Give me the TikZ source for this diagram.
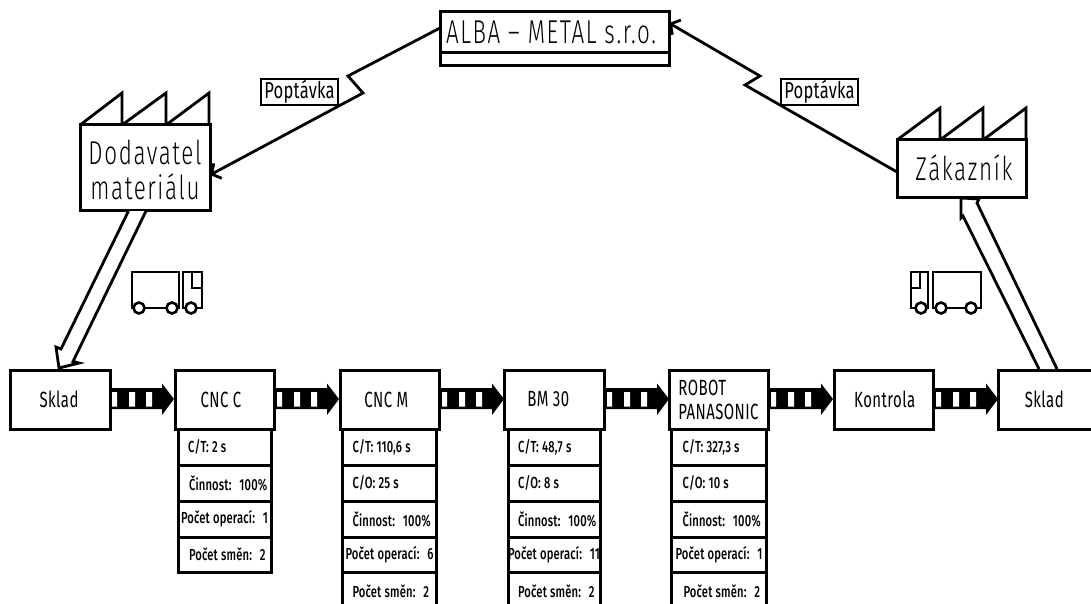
\documentclass[tikz,border=0pt]{standalone}
\usepackage{fontspec}
\setmainfont{Fira Sans}
\newfontfamily\smallf[FakeStretch=0.7,LetterSpace=1]{Fira Sans Medium}
\newfontfamily\procf[FakeStretch=0.68,LetterSpace=2]{Fira Sans}
\newfontfamily\popf[FakeStretch=0.72,LetterSpace=1]{Fira Sans}
\newfontfamily\thinf[FakeStretch=0.68,LetterSpace=5]{Fira Sans Light}
\usetikzlibrary{arrows.meta}
\tikzset{
  box/.style={draw=black,line width=3pt,fill=white,inner sep=0pt,outer sep=0pt,rectangle,anchor=north west,align=center},
  proc/.style={font=\procf\fontsize{22}{24}\selectfont},
  big/.style={font=\thinf\fontsize{33}{35}\selectfont,inner sep=0pt,align=center},
  thin label/.style={box,line width=2.6pt,font=\popf\fontsize{23}{25}\selectfont},
  conn/.style={draw=black,line width=2.8pt,line join=miter},
  barbed/.style={conn,-{Straight Barb[length=7pt,width=17pt,line width=2.8pt]}},
  outline/.style={draw=black,line width=2.8pt,line join=miter},
  truckline/.style={draw=black,line width=2.6pt,line join=miter},
  wheel/.style={draw=black,line width=2.6pt,fill=white,circle,minimum size=11pt,inner sep=0pt},
}
% name, x0, y0, x1, y1, extra style, content
\newcommand{\bx}[7]{\pgfmathsetlengthmacro{\bw}{(#4-#2)*1pt}\pgfmathsetlengthmacro{\bh}{(#5-#3)*1pt}%
  \node[box,minimum width=\bw,minimum height=\bh,#6] (#1) at (#2,#3) {#7};}
% name, x0, y0, y1, width, indent, text
\newcommand{\cell}[7]{\pgfmathsetlengthmacro{\bh}{(#4-#3)*1pt}%
  \node[box,minimum height=\bh,text width=#5pt,align=left,font=\smallf\fontsize{16}{18}\selectfont] (#1) at (#2,#3) {\spaceskip=3.2pt\relax\hspace*{#6pt}#7};}
% x0 = tail
\newcommand{\flow}[1]{%
  \fill[black] (#1,388) -- (#1+52,388) -- (#1+52,383.5) -- (#1+64,399) -- (#1+52,415) -- (#1+52,409) -- (#1,409) -- cycle;
  \fill[white] (#1+2,392) rectangle (#1+7,406.5) (#1+19,392) rectangle (#1+25,406.5) (#1+36,392) rectangle (#1+42,406.5);}
\begin{document}
\begin{tikzpicture}[x=1pt,y=-1pt]
\useasboundingbox (0,0) rectangle (1091,604);
\clip (0,0) rectangle (1091,604);
\fill[white] (0,0) rectangle (1091,604);

% top company box
\bx{alba}{440}{12}{669}{66}{}{}
\node[big] (albat) at (551,32) {ALBA – METAL s.r.o.};
\coordinate (albadivL) at (440,52.5);
\coordinate (albadivR) at (669,52.5);
\draw[outline] (albadivL) -- (albadivR);

% suppliers
\draw[outline] (80,125) -- (122,93) -- (122,125) -- (166,93) -- (166,125) -- (209,93) -- (209,125);
\bx{dod}{80}{125}{210}{210}{}{}
\node[big] (dodt) at (145,170) {Dodavatel\\materiálu};
\draw[outline] (897,140) -- (940,108) -- (940,140) -- (983,108) -- (983,140) -- (1026,108) -- (1026,140);
\bx{zak}{897}{140}{1026}{197}{}{}
\node[big] (zakt) at (964,168) {Zákazník};

% process boxes
\bx{s1}{10}{370}{110}{429}{proc}{Sklad\hspace*{2pt}}
\bx{cncc}{175.5}{370}{274.5}{429}{proc}{CNC C\hspace*{8pt}}
\bx{cncm}{340}{370}{439.5}{429}{proc}{CNC M\hspace*{7pt}}
\bx{bm}{504.5}{370}{604}{429}{proc}{BM 30\hspace*{12pt}}
\bx{rob}{669}{370}{768}{429}{proc,align=left}{ROBOT\\PANASONIC}
\bx{kon}{834}{370}{933.5}{429}{proc}{Kontrola\hspace*{-2pt}}
\bx{s2}{998.5}{370}{1096}{429}{proc}{Sklad\hspace*{6pt}}

% flows
\flow{110}
\flow{275}
\flow{440}
\flow{605}
\flow{769}
\flow{934}

% data cells
\cell{c1}{178}{429}{465}{93}{10}{C/T: 2 s}
\cell{c2}{178}{465}{501}{93}{11}{Činnost: 100\%}
\cell{c3}{178}{501}{537}{93}{3}{Počet operací: 1}
\cell{c4}{178}{537}{572}{93}{11}{Počet směn: 2}

\cell{m1}{342.5}{429}{465}{93.5}{10}{C/T: 110,6 s}
\cell{m2}{342.5}{465}{501}{93.5}{10}{C/O: 25 s}
\cell{m3}{342.5}{501}{537}{93.5}{10}{Činnost: 100\%}
\cell{m4}{342.5}{537}{572}{93.5}{3}{Počet operací: 6}
\cell{m5}{342.5}{572}{610}{93.5}{10}{Počet směn: 2}

\cell{b1}{508}{429}{465}{92.5}{10}{C/T: 48,7 s}
\cell{b2}{508}{465}{501}{92.5}{10}{C/O: 8 s}
\cell{b3}{508}{501}{537}{92.5}{10}{Činnost: 100\%}
\cell{b4}{508}{537}{572}{92.5}{0}{Počet operací: 11}
\cell{b5}{508}{572}{610}{92.5}{10}{Počet směn: 2}

\cell{r1}{671.5}{429}{465}{94.5}{11}{C/T: 327,3 s}
\cell{r2}{671.5}{465}{501}{94.5}{11}{C/O: 10 s}
\cell{r3}{671.5}{501}{537}{94.5}{11}{Činnost: 100\%}
\cell{r4}{671.5}{537}{572}{94.5}{4}{Počet operací: 1}
\cell{r5}{671.5}{572}{610}{94.5}{12}{Počet směn: 2}

% information connectors
\coordinate (a1) at (alba.north west|-0,28);
\coordinate (k1) at (348,76);
\coordinate (k2) at (363,93);
\coordinate (d1) at (dod.north east|-0,175);
\draw[barbed] (a1) -- (k1) -- (k2) -- (d1);
\coordinate (z1) at (zak.north west|-0,172);
\coordinate (k3) at (745,85);
\coordinate (k4) at (760,76);
\coordinate (a2) at (alba.north east|-0,23);
\draw[barbed] (z1) -- (k3) -- (k4) -- (a2);

\node[thin label,minimum width=77pt,minimum height=26pt] (p1) at (261,79) {Poptávka};
\node[thin label,minimum width=77pt,minimum height=26pt] (p2) at (781,79) {Poptávka};

% push arrows
\draw[conn,fill=white] (128.5,211) -- (61,349) -- (56,347) -- (59,368) -- (79,363) -- (73,361.5) -- (146,211);
\draw[conn,fill=white] (1039,369) -- (963,216) -- (961,218) -- (961,198) -- (979,199) -- (977,203) -- (1057,369);

% trucks
\draw[truckline] (132,308) -- (132,272) -- (179,272) -- (179,308) -- cycle;
\draw[truckline] (183,308) -- (183,272) -- (202,272) -- (202,308) -- cycle;
\draw[truckline] (192,272) -- (192,288) -- (202,288);
\node[wheel] (w1) at (139,308) {};
\node[wheel] (w2) at (172,308) {};
\node[wheel] (w3) at (191,308) {};

\draw[truckline] (911,308) -- (911,272) -- (928,272) -- (928,308) -- cycle;
\draw[truckline] (933,308) -- (933,272) -- (981,272) -- (981,308) -- cycle;
\draw[truckline] (911,288) -- (920,288) -- (920,272);
\node[wheel] (w4) at (921,308) {};
\node[wheel] (w5) at (941,308) {};
\node[wheel] (w6) at (971,308) {};
\end{tikzpicture}
\end{document}
